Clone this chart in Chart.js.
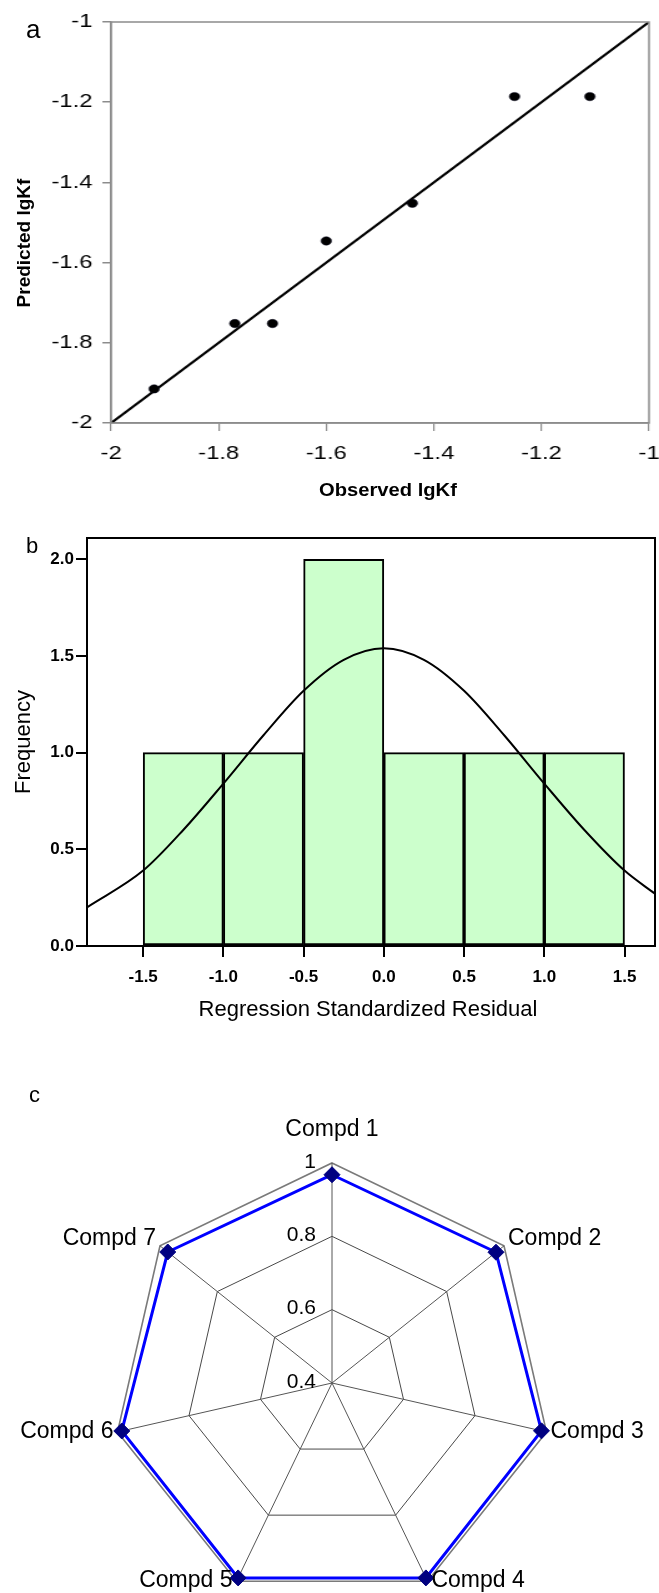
<!DOCTYPE html>
<html>
<head>
<meta charset="utf-8">
<script src="https://cdn.jsdelivr.net/npm/chart.js@4.4.1/dist/chart.umd.min.js"></script>
<style>
  html, body { margin: 0; padding: 0; background: #fff; }
  #page {
    position: relative;
    width: 659px;
    height: 1593px;
    overflow: hidden;
    background: #fff;
    color: #000;
    font-family: "Liberation Sans", Arial, sans-serif;
  }
  canvas { position: absolute; left: 0; }
  .txt { position: absolute; white-space: nowrap; line-height: 1; }
  .mid { transform: translate(-50%, -50%); }
  .rot { transform: translate(-50%, -50%) rotate(-90deg); }
</style>
</head>
<body>
<div id="page">
  <canvas id="chartA" width="528" height="520" style="top:0;width:659px;height:520px"></canvas>
  <canvas id="chartB" width="659" height="520" style="top:520px;width:659px;height:520px"></canvas>
  <canvas id="chartC" width="659" height="560" style="top:1060px;width:659px;height:560px"></canvas>

  <div class="txt" style="left:26px;top:16px;font-size:26px">a</div>
  <div class="txt rot" style="left:23px;top:243px;font-size:19px;font-weight:bold">Predicted lgKf</div>
  <div class="txt" style="left:388px;top:490px;font-size:18px;font-weight:bold;transform:translate(-50%,-50%) scaleX(1.12)">Observed lgKf</div>

  <div class="txt" style="left:26px;top:535px;font-size:22px">b</div>
  <div class="txt rot" style="left:23px;top:742px;font-size:22px">Frequency</div>
  <div class="txt mid" style="left:368px;top:1009px;font-size:22px">Regression Standardized Residual</div>

  <div class="txt" style="left:29px;top:1084px;font-size:22px">c</div>
</div>

<script>
// panel a: observed vs predicted
const observed = [-1.92, -1.77, -1.70, -1.60, -1.44, -1.25, -1.11];
const predicted = [-1.915, -1.752, -1.752, -1.546, -1.452, -1.186, -1.186];
const fitLineX = [-2, -1];
const fitLineY = [-2, -1];
const lgkfTicks = [-2, -1.8, -1.6, -1.4, -1.2, -1];

// panel b: residual histogram + normal curve
const binCenters = [-1.25, -0.75, -0.25, 0.25, 0.75, 1.25];
const frequencies = [1, 1, 2, 1, 1, 1];
const curveX = [-1.85, -1.5, -1.25, -1, -0.75, -0.5, -0.25, 0, 0.25, 0.5, 0.75, 1, 1.25, 1.5, 1.69];
const curveY = [0.20, 0.39, 0.60, 0.84, 1.09, 1.32, 1.48, 1.54, 1.48, 1.32, 1.09, 0.84, 0.60, 0.39, 0.27];
const residualTicks = [-1.5, -1.0, -0.5, 0, 0.5, 1.0, 1.5];
const frequencyTicks = [0, 0.5, 1.0, 1.5, 2.0];

// panel c: radar
const compounds = ["Compd 1", "Compd 2", "Compd 3", "Compd 4", "Compd 5", "Compd 6", "Compd 7"];
const radarValues = [0.968, 0.972, 0.986, 0.99, 0.99, 0.988, 0.973];

const FONT = '"Liberation Sans", Arial, sans-serif';
Chart.defaults.font.family = FONT;
Chart.defaults.color = "#000";

document.addEventListener("DOMContentLoaded", () => {
  drawScatter();
  drawHistogram();
  drawRadar();
});

const framePlugin = {
  id: "frame",
  afterDatasetsDraw(chart, args, opts) {
    const { ctx, chartArea: a } = chart;
    ctx.save();
    ctx.strokeStyle = opts.color;
    ctx.lineWidth = opts.width;
    ctx.strokeRect(a.left, a.top, a.right - a.left, a.bottom - a.top);
    ctx.restore();
  },
};

function fixedTicks(values) {
  return (scale) => {
    scale.ticks = values.map((v) => ({ value: v }));
  };
}

function drawScatter() {
  const ctx = document.getElementById("chartA");
  if (!ctx) return;

  const gray = "#8c8c8c";

  new Chart(ctx, {
    type: "scatter",
    data: {
      datasets: [
        {
          type: "line",
          data: fitLineX.map((x, i) => ({ x, y: fitLineY[i] })),
          borderColor: "#000",
          borderWidth: 2.2,
          pointRadius: 0,
          order: 2,
        },
        {
          data: observed.map((x, i) => ({ x, y: predicted[i] })),
          pointRadius: 4.2,
          backgroundColor: "#000",
          borderColor: "#0a0a20",
          borderWidth: 0.5,
          order: 1,
        },
      ],
    },
    options: {
      responsive: false,
      animation: false,
      devicePixelRatio: 1,
      layout: { padding: { top: 22, right: 8, left: 0, bottom: 0 } },
      plugins: {
        legend: { display: false },
        tooltip: { enabled: false },
        frame: { color: gray, width: 1.5 },
      },
      scales: {
        x: {
          type: "linear",
          min: -2,
          max: -1,
          afterBuildTicks: fixedTicks(lgkfTicks),
          afterFit: (s) => {
            s.height = 97;
            s.paddingLeft = 0;
            s.paddingRight = 0;
          },
          ticks: {
            font: { size: 19 },
            padding: 11,
            callback: (v) => String(Number(v.toFixed(1))),
          },
          grid: { drawOnChartArea: false, color: gray, lineWidth: 1.2, tickLength: 8 },
          border: { color: gray, width: 1.5 },
        },
        y: {
          min: -2,
          max: -1,
          afterBuildTicks: fixedTicks(lgkfTicks),
          afterFit: (s) => { s.width = 89; },
          ticks: {
            font: { size: 19 },
            padding: 8,
            callback: (v) => String(Number(v.toFixed(1))),
          },
          grid: { drawOnChartArea: false, color: gray, lineWidth: 1.5, tickLength: 7 },
          border: { color: gray, width: 1.3 },
        },
      },
    },
    plugins: [framePlugin],
  });
}

function drawHistogram() {
  const ctx = document.getElementById("chartB");
  if (!ctx) return;

  new Chart(ctx, {
    type: "bar",
    data: {
      datasets: [
        {
          type: "line",
          data: curveX.map((x, i) => ({ x, y: curveY[i] })),
          borderColor: "#000",
          borderWidth: 2,
          pointRadius: 0,
          cubicInterpolationMode: "monotone",
          order: 0,
        },
        {
          data: binCenters.map((x, i) => ({ x, y: frequencies[i] })),
          backgroundColor: "#ccffcc",
          borderColor: "#000",
          borderWidth: 2,
          borderSkipped: false,
          barPercentage: 1,
          categoryPercentage: 1,
          order: 1,
        },
      ],
    },
    options: {
      responsive: false,
      animation: false,
      devicePixelRatio: 1,
      layout: { padding: { top: 18, right: 4, left: 0, bottom: 0 } },
      plugins: {
        legend: { display: false },
        tooltip: { enabled: false },
        frame: { color: "#000", width: 2 },
      },
      scales: {
        x: {
          type: "linear",
          min: -1.85,
          max: 1.69,
          offset: false,
          afterBuildTicks: fixedTicks(residualTicks),
          afterFit: (s) => { s.height = 94; },
          ticks: {
            font: { size: 17, weight: "bold" },
            padding: 10,
            callback: (v) => v.toFixed(1),
          },
          grid: { offset: false, drawOnChartArea: false, color: "#000", lineWidth: 2, tickLength: 11 },
          border: { color: "#000", width: 2 },
        },
        y: {
          min: 0,
          max: 2.11,
          afterBuildTicks: fixedTicks(frequencyTicks),
          afterFit: (s) => { s.width = 87; },
          ticks: {
            font: { size: 17, weight: "bold" },
            padding: 2,
            callback: (v) => v.toFixed(1),
          },
          grid: { drawOnChartArea: false, color: "#000", lineWidth: 2, tickLength: 11 },
          border: { color: "#000", width: 2 },
        },
      },
    },
    plugins: [framePlugin],
  });
}

const radarTextPlugin = {
  id: "radarText",
  afterDraw(chart) {
    const scale = chart.scales.r;
    const ctx = chart.ctx;
    ctx.save();
    ctx.fillStyle = "#000";
    ctx.textBaseline = "middle";

    // value labels, left of the top spoke
    ctx.font = `21px ${FONT}`;
    ctx.textAlign = "right";
    scale.ticks.forEach((t) => {
      const r = scale.getDistanceFromCenterForValue(t.value);
      ctx.fillText(t.label, scale.xCenter - 16, scale.yCenter - r - 1);
    });

    // compound names at the outer vertices
    ctx.font = `23px ${FONT}`;
    chart.data.labels.forEach((label, i) => {
      const p = scale.getPointPosition(i, scale.drawingArea);
      const dx = Math.cos(p.angle);
      const dy = Math.sin(p.angle);
      if (Math.abs(dx) < 0.05) {
        ctx.textAlign = "center";
        ctx.fillText(label, p.x, p.y - 33);
      } else {
        ctx.textAlign = dx > 0 ? "left" : "right";
        const yOff = dy < -0.5 ? -7 : dy > 0.5 ? -1 : 0;
        ctx.fillText(label, p.x + (dx > 0 ? 4 : -4), p.y + yOff);
      }
    });
    ctx.restore();
  },
};

function drawRadar() {
  const ctx = document.getElementById("chartC");
  if (!ctx) return;

  new Chart(ctx, {
    type: "radar",
    data: {
      labels: compounds,
      datasets: [
        {
          data: radarValues,
          borderColor: "#0000ff",
          borderWidth: 3,
          fill: false,
          pointStyle: "rectRot",
          pointRadius: 8,
          pointBackgroundColor: "#000080",
          pointBorderColor: "#000080",
          pointBorderWidth: 1,
        },
      ],
    },
    options: {
      responsive: false,
      animation: false,
      devicePixelRatio: 1,
      layout: { padding: { left: 112, right: 107, top: 103, bottom: 17 } },
      elements: { line: { tension: 0 } },
      plugins: {
        legend: { display: false },
        tooltip: { enabled: false },
      },
      scales: {
        r: {
          min: 0.4,
          max: 1,
          ticks: {
            display: false,
            stepSize: 0.2,
            callback: (v) => String(Number(v.toFixed(1))),
          },
          pointLabels: { display: false },
          angleLines: { color: "#555", lineWidth: 1 },
          grid: {
            color: (c) => (c.tick && c.tick.value > 0.99 ? "#7a7a7a" : "#333"),
            lineWidth: (c) => (c.tick && c.tick.value > 0.99 ? 1.6 : 0.9),
          },
        },
      },
    },
    plugins: [radarTextPlugin],
  });
}
</script>
</body>
</html>
